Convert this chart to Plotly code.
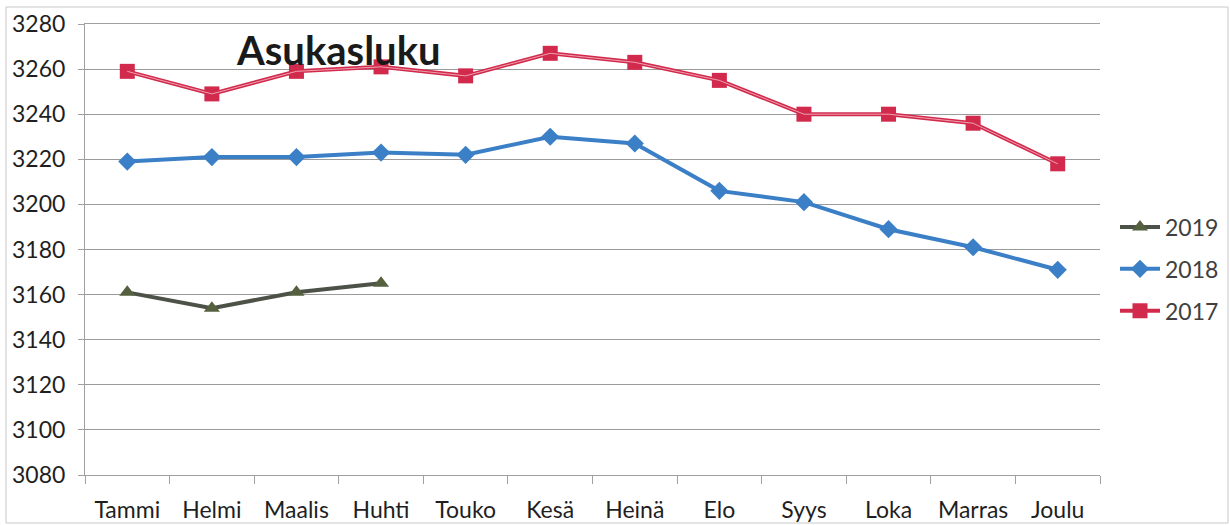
import plotly.graph_objects as go

months = ["Tammi", "Helmi", "Maalis", "Huhti", "Touko", "Kesä", "Heinä", "Elo", "Syys", "Loka", "Marras", "Joulu"]
v2019 = [3161, 3154, 3161, 3165]
v2018 = [3219, 3221, 3221, 3223, 3222, 3230, 3227, 3206, 3201, 3189, 3181, 3171]
v2017 = [3259, 3249, 3259, 3261, 3257, 3267, 3263, 3255, 3240, 3240, 3236, 3218]
y_ticks = [3080, 3100, 3120, 3140, 3160, 3180, 3200, 3220, 3240, 3260, 3280]

FONT = "Lato, 'Open Sans', sans-serif"
W, H = 1230, 525
L, R, T, B = 85, 130, 24, 50
PW, PH = W - L - R, H - T - B


def px(x):
    return (x - L) / PW


def py(y):
    return (H - B - y) / PH


fig = go.Figure()
fig.add_trace(go.Scatter(x=months[:len(v2019)], y=v2019, name="2019", mode="lines+markers",
                         legendgroup="a",
                         line=dict(color="#4d5248", width=4),
                         marker=dict(symbol="triangle-up", size=14, color="#55603f")))
fig.add_trace(go.Scatter(x=months, y=v2018, name="2018", mode="lines+markers",
                         legendgroup="b",
                         line=dict(color="#3b7fc6", width=4),
                         marker=dict(symbol="diamond", size=14, color="#3b7fc6")))
fig.add_trace(go.Scatter(x=months, y=v2017, name="2017", mode="lines+markers",
                         legendgroup="c",
                         line=dict(color="#d22a4c", width=4),
                         marker=dict(symbol="square", size=15, color="#d22a4c")))
fig.add_trace(go.Scatter(x=months, y=v2017, mode="lines", showlegend=False, hoverinfo="skip",
                         legendgroup="c",
                         line=dict(color="rgba(245,190,200,0.8)", width=1)))

fig.update_layout(
    width=W, height=H,
    margin=dict(l=L, r=R, t=T, b=B, autoexpand=False),
    paper_bgcolor="white", plot_bgcolor="white",
    font=dict(family=FONT, size=23, color="#1f1f1f"),
    showlegend=True,
    legend=dict(x=px(1115), y=py(269), xanchor="left", yanchor="middle",
                font=dict(size=23, color="#404040"), traceorder="grouped",
                itemwidth=40, tracegroupgap=9),
    annotations=[dict(text="<b>Asukasluku</b>", x=px(338), y=py(50), xref="paper", yref="paper",
                      xanchor="center", yanchor="middle",
                      showarrow=False, font=dict(size=40, color="#1a1a1a", family=FONT))],
    shapes=[dict(type="rect", xref="paper", yref="paper", x0=px(6), x1=px(1228), y0=py(523), y1=py(7),
                 line=dict(color="#c8c8c8", width=1))],
)

fig.update_xaxes(type="category", categoryorder="array", categoryarray=months,
                 tickson="boundaries", ticks="outside", ticklen=8, tickcolor="#a0a0a0",
                 showline=True, linecolor="#a0a0a0", linewidth=1, mirror=True,
                 showgrid=False, tickfont=dict(size=23, color="#1f1f1f"),
                 ticklabelstandoff=14, automargin=False,
                 range=[-0.5, 11.5])
fig.update_yaxes(range=[3080, 3280], tickvals=y_ticks, ticks="outside", ticklen=6,
                 tickcolor="#a0a0a0", showline=True, linecolor="#a0a0a0", linewidth=1,
                 gridcolor="#9a9a9a", gridwidth=1, zeroline=False, automargin=False,
                 ticklabelstandoff=8,
                 tickfont=dict(size=23, color="#1f1f1f"))

fig.write_html("out.html", config={"displayModeBar": False},
               post_script="document.body.style.margin='0';")
